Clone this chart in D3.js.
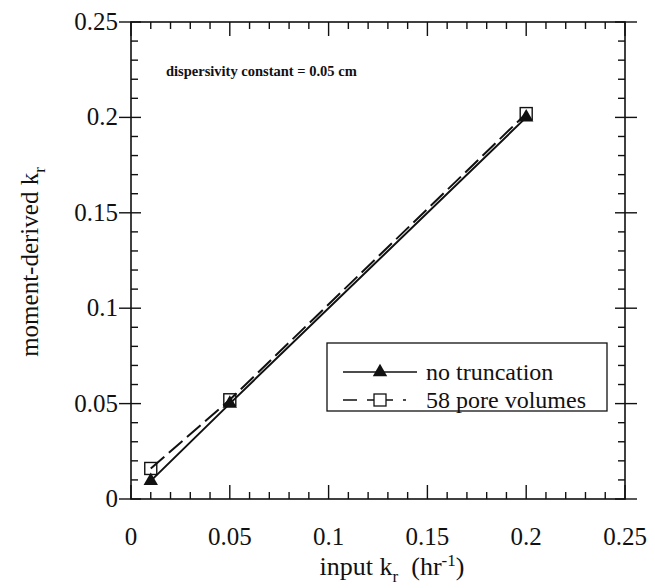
<!DOCTYPE html>
<html>
<head>
<meta charset="utf-8">
<script src="https://cdn.jsdelivr.net/npm/d3@7"></script>
<style>
  html, body { margin: 0; padding: 0; background: #fff; }
  svg { display: block; }
  svg text { font-family: "Liberation Serif", "Times New Roman", Times, serif; }
</style>
</head>
<body>
<svg id="chart" width="655" height="588" font-family="Liberation Serif, serif"></svg>
<script>
// Input rate coefficient (hr^-1) and moment-derived estimates
const inputKr = [0.01, 0.05, 0.2];
const noTruncation = [0.0095, 0.05, 0.2];
const porVolumes58 = [0.016, 0.052, 0.202];
const xTicks = [0, 0.05, 0.1, 0.15, 0.2, 0.25];
const yTicks = [0, 0.05, 0.1, 0.15, 0.2, 0.25];
const tickLabels = ["0", "0.05", "0.1", "0.15", "0.2", "0.25"];
const seriesNames = ["no truncation", "58 pore volumes"];

(function draw() {
  const svg = d3.select("#chart");
  const pLeft = 131, pRight = 625, pTop = 22, pBottom = 499;

  const x = d3.scaleLinear().domain([0, 0.25]).range([pLeft, pRight]);
  const y = d3.scaleLinear().domain([0, 0.25]).range([pBottom, pTop]);
  const minor = d3.range(0, 0.2501, 0.01);

  const ink = "#111";

  // frame
  svg.append("rect")
    .attr("x", pLeft).attr("y", pTop)
    .attr("width", pRight - pLeft).attr("height", pBottom - pTop)
    .attr("fill", "none").attr("stroke", ink).attr("stroke-width", 1.6);

  const tk = svg.append("g").attr("stroke", ink).attr("stroke-width", 1.4);
  minor.forEach(v => {
    const isMajor = Math.abs(Math.round(v * 20) - v * 20) < 1e-6;
    const inLen = isMajor ? 14 : 7;
    // bottom and top ticks point inward
    tk.append("line").attr("x1", x(v)).attr("x2", x(v)).attr("y1", pBottom).attr("y2", pBottom - inLen);
    tk.append("line").attr("x1", x(v)).attr("x2", x(v)).attr("y1", pTop).attr("y2", pTop + inLen);
    // left and right ticks; majors cross the frame
    const outLen = isMajor ? 12 : 0;
    const inY = isMajor ? 10 : 7;
    tk.append("line").attr("y1", y(v)).attr("y2", y(v)).attr("x1", pLeft - outLen).attr("x2", pLeft + inY);
    tk.append("line").attr("y1", y(v)).attr("y2", y(v)).attr("x1", pRight + outLen).attr("x2", pRight - inY);
  });

  // tick labels
  svg.append("g").selectAll("text").data(xTicks).join("text")
    .attr("x", d => x(d)).attr("y", 545)
    .attr("text-anchor", "middle").attr("font-size", 25).attr("fill", ink)
    .text((d, i) => tickLabels[i]);

  svg.append("g").selectAll("text").data(yTicks).join("text")
    .attr("x", 118).attr("y", d => y(d) + 8)
    .attr("text-anchor", "end").attr("font-size", 25).attr("fill", ink)
    .text((d, i) => tickLabels[i]);

  // axis titles
  const xt = svg.append("text").attr("x", 392).attr("y", 575)
    .attr("text-anchor", "middle").attr("font-size", 26).attr("fill", ink);
  xt.append("tspan").text("input k");
  xt.append("tspan").attr("font-size", 17).attr("dy", 7).text("r");
  xt.append("tspan").attr("dy", -7).text("\u00a0\u00a0(hr");
  xt.append("tspan").attr("font-size", 17).attr("dy", -9).text("-1");
  xt.append("tspan").attr("dy", 9).text(")");

  const yt = svg.append("text")
    .attr("transform", "translate(38,262) rotate(-90)")
    .attr("text-anchor", "middle").attr("font-size", 25).attr("fill", ink);
  yt.append("tspan").text("moment-derived k");
  yt.append("tspan").attr("font-size", 17).attr("dy", 7).text("r");

  // annotation
  svg.append("text").attr("x", 166).attr("y", 76)
    .attr("font-size", 14.5).attr("font-weight", "bold").attr("fill", ink)
    .text("dispersivity constant = 0.05 cm");

  // series lines
  const line = d3.line().x(d => x(d[0])).y(d => y(d[1]));
  const solidPts = inputKr.map((v, i) => [v, noTruncation[i]]);
  const dashPts = inputKr.map((v, i) => [v, porVolumes58[i]]);

  svg.append("path").attr("d", line(dashPts))
    .attr("fill", "none").attr("stroke", ink).attr("stroke-width", 2)
    .attr("stroke-dasharray", "18,6");
  svg.append("path").attr("d", line(solidPts))
    .attr("fill", "none").attr("stroke", ink).attr("stroke-width", 2);

  // markers
  const sq = 12;
  svg.append("g").selectAll("rect").data(dashPts).join("rect")
    .attr("x", d => x(d[0]) - sq / 2).attr("y", d => y(d[1]) - sq / 2)
    .attr("width", sq).attr("height", sq)
    .attr("fill", "none").attr("stroke", ink).attr("stroke-width", 1.4);

  const tri = d3.symbol().type(d3.symbolTriangle).size(90);
  svg.append("g").selectAll("path").data(solidPts).join("path")
    .attr("transform", d => `translate(${x(d[0])},${y(d[1])})`)
    .attr("d", tri).attr("fill", ink);

  // legend
  const lg = svg.append("g");
  lg.append("rect").attr("x", 327).attr("y", 343).attr("width", 280).attr("height", 68)
    .attr("fill", "#fff").attr("stroke", ink).attr("stroke-width", 1.3);
  const rows = [372, 400];
  lg.append("line").attr("x1", 343).attr("x2", 417).attr("y1", rows[0]).attr("y2", rows[0])
    .attr("stroke", ink).attr("stroke-width", 1.6);
  lg.append("path").attr("transform", `translate(380,${rows[0]})`).attr("d", tri).attr("fill", ink);
  lg.append("line").attr("x1", 343).attr("x2", 417).attr("y1", rows[1]).attr("y2", rows[1])
    .attr("stroke", ink).attr("stroke-width", 1.4).attr("stroke-dasharray", "14,10,26,10,3");
  lg.append("rect").attr("x", 374).attr("y", rows[1] - 6).attr("width", 12).attr("height", 12)
    .attr("fill", "#fff").attr("stroke", ink).attr("stroke-width", 1.3);
  lg.selectAll("text.lab").data(seriesNames).join("text")
    .attr("x", 426).attr("y", (d, i) => rows[i] + 8)
    .attr("font-size", 24).attr("fill", ink).text(d => d);
})();
</script>
</body>
</html>
